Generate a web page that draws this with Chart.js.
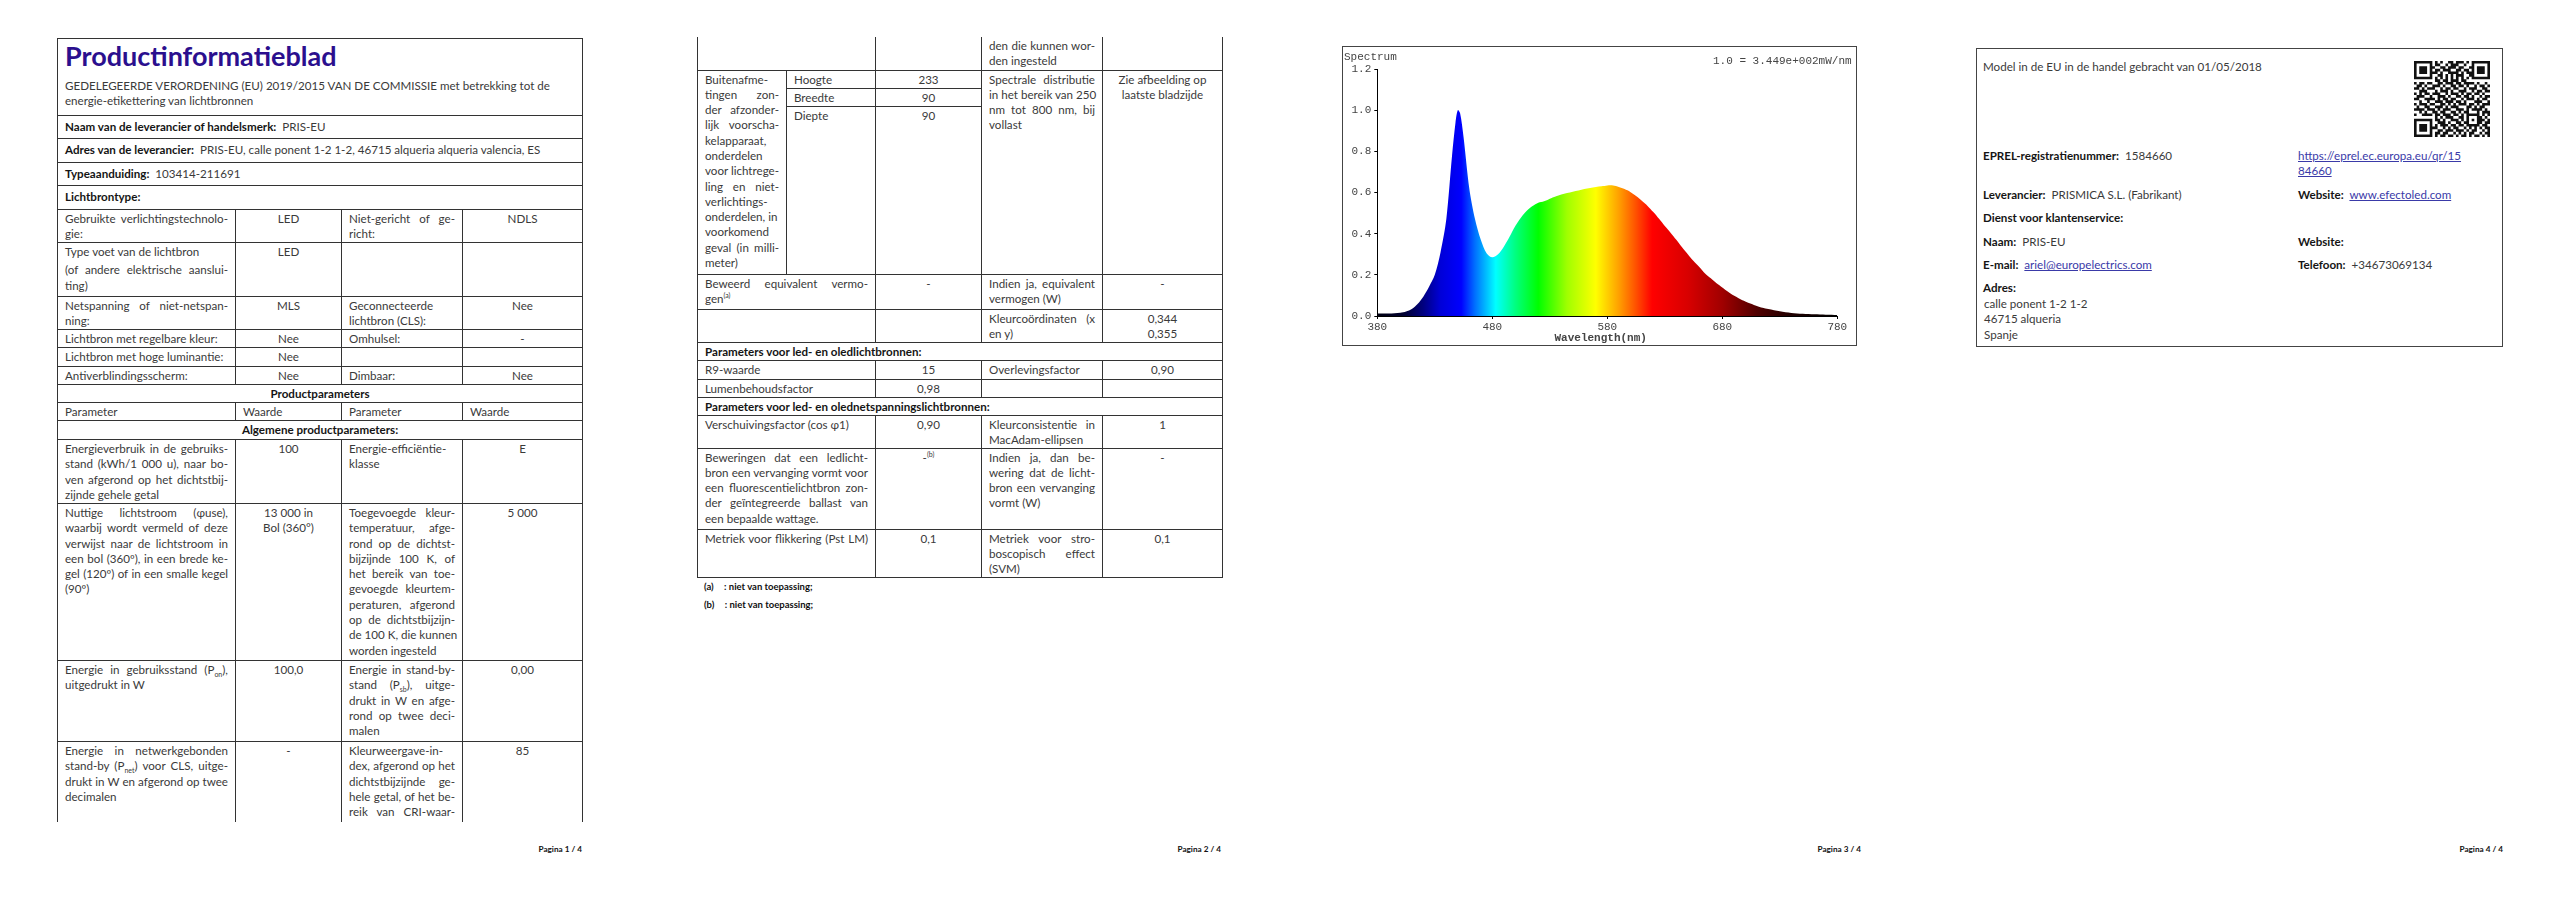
<!DOCTYPE html>
<html lang="nl">
<head>
<meta charset="utf-8">
<title>Productinformatieblad</title>
<script src="https://cdn.jsdelivr.net/npm/chart.js@4/dist/chart.umd.min.js"></script>
<style>
html, body { margin: 0; padding: 0; background: #fff; }
body { position: relative; width: 2560px; height: 905px; overflow: hidden; font-family: Lato, "Open Sans", sans-serif; font-size: 11.6px; line-height: 15.3px; color: #3a3a3a; filter: blur(0.35px); }
table { position: absolute; border-collapse: collapse; table-layout: fixed; }
td { border: 1px solid #333; padding: 1px 7px 0; vertical-align: top; overflow: hidden; white-space: nowrap; }
td.c { text-align: center; }
td.b, b { font-weight: 700; color: #151515; }
td.cb { text-align: center; font-weight: 700; color: #151515; }
tr.open-bottom td { border-bottom: 0; }
tr.open-top td { border-top: 0; }
.j { text-align-last: justify; }
sub, sup { font-size: 7px; line-height: 0; }
h1 { margin: 0; font-size: 27px; line-height: 32px; font-weight: 700; color: #2b0f8e; }
.abs { position: absolute; white-space: nowrap; }
.foot { position: absolute; top: 844px; width: 80px; text-align: right; font-size: 8.2px; line-height: 10px; font-weight: 700; color: #111; }
.note { position: absolute; left: 704px; font-size: 9.5px; line-height: 12px; font-weight: 700; color: #111; white-space: nowrap; }
.box { position: absolute; border: 1.5px solid #444; box-sizing: border-box; }
a { color: #3a3aa8; text-decoration: underline; }
.mono { position: absolute; font-family: "Liberation Mono", monospace; font-size: 11px; line-height: 12px; color: #444; white-space: nowrap; }
#spectrum { position: absolute; left: 1342px; top: 46px; }
#qr { position: absolute; left: 2414px; top: 61px; }
</style>
</head>
<body>

<!-- Pagina 1 -->
<table style="left:57px;top:38px;width:525px">
<colgroup><col style="width:178px"><col style="width:106px"><col style="width:121px"><col style="width:120px"></colgroup>
<tr style="height:77px"><td colspan="4"><h1>Productinformatieblad</h1><div style="margin-top:6px">GEDELEGEERDE VERORDENING (EU) 2019/2015 VAN DE COMMISSIE met betrekking tot de<br>energie-etikettering van lichtbronnen</div></td></tr>
<tr style="height:23px"><td colspan="4" style="padding-top:3px"><b>Naam van de leverancier of handelsmerk:</b>&nbsp; PRIS-EU</td></tr>
<tr style="height:24px"><td colspan="4" style="padding-top:3px"><b>Adres van de leverancier:</b>&nbsp; PRIS-EU, calle ponent 1-2 1-2, 46715 alqueria alqueria valencia, ES</td></tr>
<tr style="height:23px"><td colspan="4" style="padding-top:3px"><b>Typeaanduiding:</b>&nbsp; 103414-211691</td></tr>
<tr style="height:24px"><td colspan="4" style="padding-top:3px"><b>Lichtbrontype:</b></td></tr>
<tr style="height:33px"><td><div class="j">Gebruikte verlichtingstechnolo-</div>gie:</td><td class="c">LED</td><td><div class="j">Niet-gericht of ge-</div>richt:</td><td class="c">NDLS</td></tr>
<tr style="height:54px"><td>Type voet van de lichtbron<div class="j" style="margin-top:3px">(of andere elektrische aanslui-</div>ting)</td><td class="c">LED</td><td></td><td></td></tr>
<tr style="height:33px"><td><div class="j">Netspanning of niet-netspan-</div>ning:</td><td class="c">MLS</td><td>Geconnecteerde<br>lichtbron (CLS):</td><td class="c">Nee</td></tr>
<tr style="height:18px"><td>Lichtbron met regelbare kleur:</td><td class="c">Nee</td><td>Omhulsel:</td><td class="c">-</td></tr>
<tr style="height:19px"><td>Lichtbron met hoge luminantie:</td><td class="c">Nee</td><td></td><td></td></tr>
<tr style="height:18px"><td>Antiverblindingsscherm:</td><td class="c">Nee</td><td>Dimbaar:</td><td class="c">Nee</td></tr>
<tr style="height:18px"><td colspan="4" class="cb">Productparameters</td></tr>
<tr style="height:18px"><td>Parameter</td><td>Waarde</td><td>Parameter</td><td>Waarde</td></tr>
<tr style="height:19px"><td colspan="4" class="cb">Algemene productparameters:</td></tr>
<tr style="height:64px"><td><div class="j">Energieverbruik in de gebruiks-</div><div class="j">stand (kWh/1 000 u), naar bo-</div><div class="j">ven afgerond op het dichtstbij-</div>zijnde gehele getal</td><td class="c">100</td><td>Energie-efficiëntie-<br>klasse</td><td class="c">E</td></tr>
<tr style="height:157px"><td><div class="j">Nuttige lichtstroom (φuse),</div><div class="j">waarbij wordt vermeld of deze</div><div class="j">verwijst naar de lichtstroom in</div><div class="j">een bol (360º), in een brede ke-</div><div class="j">gel (120º) of in een smalle kegel</div>(90º)</td><td class="c">13 000 in<br>Bol (360°)</td><td><div class="j">Toegevoegde kleur-</div><div class="j">temperatuur, afge-</div><div class="j">rond op de dichtst-</div><div class="j">bijzijnde 100 K, of</div><div class="j">het bereik van toe-</div><div class="j">gevoegde kleurtem-</div><div class="j">peraturen, afgerond</div><div class="j">op de dichtstbijzijn-</div><div class="j">de 100 K, die kunnen</div>worden ingesteld</td><td class="c">5 000</td></tr>
<tr style="height:81px"><td><div class="j">Energie in gebruiksstand (P<sub>on</sub>),</div>uitgedrukt in W</td><td class="c">100,0</td><td><div class="j">Energie in stand-by-</div><div class="j">stand (P<sub>sb</sub>), uitge-</div><div class="j">drukt in W en afge-</div><div class="j">rond op twee deci-</div>malen</td><td class="c">0,00</td></tr>
<tr class="open-bottom" style="height:80px"><td><div class="j">Energie in netwerkgebonden</div><div class="j">stand-by (P<sub>net</sub>) voor CLS, uitge-</div><div class="j">drukt in W en afgerond op twee</div>decimalen</td><td class="c">-</td><td>Kleurweergave-in-<div class="j">dex, afgerond op het</div><div class="j">dichtstbijzijnde ge-</div><div class="j">hele getal, of het be-</div><div class="j">reik van CRI-waar-</div></td><td class="c">85</td></tr>
</table>
<div class="foot" style="left:502px">Pagina 1 / 4</div>

<!-- Pagina 2 -->
<table style="left:697px;top:37px;width:525px">
<colgroup><col style="width:89px"><col style="width:89px"><col style="width:106px"><col style="width:121px"><col style="width:120px"></colgroup>
<tr class="open-top" style="height:33px"><td colspan="2"></td><td></td><td><div class="j">den die kunnen wor-</div>den ingesteld</td><td></td></tr>
<tr style="height:18px"><td rowspan="3"><div>Buitenafme-</div><div class="j">tingen zon-</div><div class="j">der afzonder-</div><div class="j">lijk voorscha-</div>kelapparaat,<br>onderdelen<div class="j">voor lichtrege-</div><div class="j">ling en niet-</div>verlichtings-<br>onderdelen, in<br>voorkomend<div class="j">geval (in milli-</div>meter)</td><td>Hoogte</td><td class="c">233</td><td rowspan="3"><div class="j">Spectrale distributie</div><div class="j">in het bereik van 250</div><div class="j">nm tot 800 nm, bij</div>vollast</td><td rowspan="3" class="c">Zie afbeelding op<br>laatste bladzijde</td></tr>
<tr style="height:18px"><td>Breedte</td><td class="c">90</td></tr>
<tr style="height:168px"><td>Diepte</td><td class="c">90</td></tr>
<tr style="height:35px"><td colspan="2"><div class="j">Beweerd equivalent vermo-</div>gen<sup>(a)</sup></td><td class="c">-</td><td><div class="j">Indien ja, equivalent</div>vermogen (W)</td><td class="c">-</td></tr>
<tr style="height:33px"><td colspan="2"></td><td></td><td><div class="j">Kleurcoördinaten (x</div>en y)</td><td class="c">0,344<br>0,355</td></tr>
<tr style="height:18px"><td colspan="5" class="b">Parameters voor led- en oledlichtbronnen:</td></tr>
<tr style="height:19px"><td colspan="2">R9-waarde</td><td class="c">15</td><td>Overlevingsfactor</td><td class="c">0,90</td></tr>
<tr style="height:18px"><td colspan="2">Lumenbehoudsfactor</td><td class="c">0,98</td><td></td><td></td></tr>
<tr style="height:18px"><td colspan="5" class="b">Parameters voor led- en olednetspanningslichtbronnen:</td></tr>
<tr style="height:33px"><td colspan="2">Verschuivingsfactor (cos φ1)</td><td class="c">0,90</td><td><div class="j">Kleurconsistentie in</div>MacAdam-ellipsen</td><td class="c">1</td></tr>
<tr style="height:81px"><td colspan="2"><div class="j">Beweringen dat een ledlicht-</div><div class="j">bron een vervanging vormt voor</div><div class="j">een fluorescentielichtbron zon-</div><div class="j">der geïntegreerde ballast van</div>een bepaalde wattage.</td><td class="c">-<sup>(b)</sup></td><td><div class="j">Indien ja, dan be-</div><div class="j">wering dat de licht-</div><div class="j">bron een vervanging</div>vormt (W)</td><td class="c">-</td></tr>
<tr style="height:48px"><td colspan="2"><div class="j">Metriek voor flikkering (Pst LM)</div></td><td class="c">0,1</td><td><div class="j">Metriek voor stro-</div><div class="j">boscopisch effect</div>(SVM)</td><td class="c">0,1</td></tr>
</table>
<div class="note" style="top:581px">(a) <span style="margin-left:8px">: niet van toepassing;</span></div>
<div class="note" style="top:599px">(b) <span style="margin-left:8px">: niet van toepassing;</span></div>
<div class="foot" style="left:1141px">Pagina 2 / 4</div>

<!-- Pagina 3 -->
<canvas id="spectrum" width="515" height="300"></canvas>
<div class="box" style="left:1342px;top:46px;width:515px;height:300px"></div>
<div class="mono" style="left:1344px;top:51px">Spectrum</div>
<div class="mono" style="left:1713px;top:55px">1.0 = 3.449e+002mW/nm</div>
<div class="foot" style="left:1781px">Pagina 3 / 4</div>

<!-- Pagina 4 -->
<div class="box" style="left:1976px;top:48px;width:527px;height:299px"></div>
<div class="abs" style="left:1983px;top:59px">Model in de EU in de handel gebracht van 01/05/2018</div>
<svg id="qr" width="76" height="76"></svg>
<div class="abs" style="left:1983px;top:148px"><b>EPREL-registratienummer:</b>&nbsp; 1584660</div>
<div class="abs" style="left:2298px;top:148px"><a href="#">https://eprel.ec.europa.eu/qr/15<br>84660</a></div>
<div class="abs" style="left:1983px;top:187px"><b>Leverancier:</b>&nbsp; PRISMICA S.L. (Fabrikant)</div>
<div class="abs" style="left:2298px;top:187px"><b>Website:</b>&nbsp; <a href="#">www.efectoled.com</a></div>
<div class="abs" style="left:1983px;top:210px"><b>Dienst voor klantenservice:</b></div>
<div class="abs" style="left:1983px;top:234px"><b>Naam:</b>&nbsp; PRIS-EU</div>
<div class="abs" style="left:2298px;top:234px"><b>Website:</b></div>
<div class="abs" style="left:1983px;top:257px"><b>E-mail:</b>&nbsp; <a href="#">ariel@europelectrics.com</a></div>
<div class="abs" style="left:2298px;top:257px"><b>Telefoon:</b>&nbsp; +34673069134</div>
<div class="abs" style="left:1983px;top:280px"><b>Adres:</b></div>
<div class="abs" style="left:1984px;top:296px">calle ponent 1-2 1-2<br>46715 alqueria<br>Spanje</div>
<div class="foot" style="left:2423px">Pagina 4 / 4</div>

<script>
const wavelengths = [380, 390, 400, 405, 410, 415, 420, 425, 430, 435, 440, 445, 448, 450, 452, 455, 460, 465, 470, 475, 480, 485, 490, 495, 500, 505, 510, 515, 520, 525, 530, 535, 540, 545, 550, 555, 560, 565, 570, 575, 580, 585, 590, 595, 600, 605, 610, 615, 620, 625, 630, 635, 640, 645, 650, 655, 660, 665, 670, 675, 680, 685, 690, 695, 700, 705, 710, 715, 720, 730, 740, 750, 760, 770, 780];
const spectrum = [0.012, 0.012, 0.016, 0.022, 0.034, 0.058, 0.094, 0.142, 0.2, 0.31, 0.47, 0.78, 0.94, 1.0, 0.985, 0.87, 0.62, 0.47, 0.37, 0.305, 0.285, 0.30, 0.337, 0.385, 0.437, 0.479, 0.511, 0.534, 0.55, 0.557, 0.57, 0.581, 0.59, 0.597, 0.604, 0.61, 0.617, 0.622, 0.627, 0.63, 0.634, 0.634, 0.627, 0.617, 0.603, 0.583, 0.56, 0.535, 0.505, 0.472, 0.437, 0.405, 0.37, 0.334, 0.30, 0.267, 0.238, 0.207, 0.183, 0.159, 0.139, 0.118, 0.099, 0.084, 0.071, 0.06, 0.049, 0.04, 0.034, 0.023, 0.015, 0.011, 0.008, 0.006, 0.005];
const xTicks = [380, 480, 580, 680, 780];
const yTicks = [0, 0.2, 0.4, 0.6, 0.8, 1.0, 1.2];

// Kleurverloop over de golflengtes
const colorStopsNm = [380, 403, 420, 435, 453, 465, 483, 500, 520, 545, 570, 590, 605, 619, 650, 680, 710, 740, 780];
const colorStops = ['#000010', '#000030', '#000080', '#0000d8', '#0000ff', '#0070ff', '#00ffff', '#00ff80', '#00ff00', '#a0ff00', '#ffff00', '#ffa000', '#ff5000', '#ff0000', '#d80000', '#a00000', '#500000', '#200000', '#000000'];

const qrRows = [
    '11111110101001101110101111111',
    '10000010110010111001001000001',
    '10111011001101110110011011101',
    '10111010110111001101101011101',
    '10111011101001111010111011101',
    '10000010011010101110011000001',
    '11111110101010101010101111111',
    '00000000110110111011000000000',
    '10110110011011101101111010010',
    '01101001110100110110100101101',
    '11010111001011011001011100110',
    '00111000101110100111001011011',
    '10101101110010111010110110100',
    '01110010011101001101101001011',
    '11001111010110110010111010110',
    '00100100111011101101000111001',
    '10111011001101010111011010111',
    '01001100111010111000110101100',
    '11110111010111001110101111010',
    '00101001101100110101100010111',
    '10011110110111011010111110101',
    '00000000101011100110100011010',
    '11111110110100111010101011101',
    '10000010011101001101100011011',
    '10111010101110110110111110110',
    '10111011100101011001010101011',
    '10111010011011101110101100101',
    '10000010110110010101011001011',
    '11111110101101101011010110101'
];

function spectrumFill(context) {
    const chart = context.chart;
    if (!chart.chartArea) return 'transparent';
    const scale = chart.scales.x;
    const grad = chart.ctx.createLinearGradient(scale.left, 0, scale.right, 0);
    colorStopsNm.forEach((nm, i) => {
        const pos = (scale.getPixelForValue(nm) - scale.left) / (scale.right - scale.left);
        grad.addColorStop(pos, colorStops[i]);
    });
    return grad;
}

const monoFont = { family: '"Liberation Mono", monospace', size: 11 };

new Chart(document.getElementById('spectrum'), {
    type: 'line',
    data: {
        datasets: [{
            data: wavelengths.map((nm, i) => ({ x: nm, y: spectrum[i] })),
            parsing: false,
            fill: 'origin',
            backgroundColor: spectrumFill,
            borderWidth: 0,
            pointRadius: 0,
            tension: 0.3
        }]
    },
    options: {
        responsive: false,
        animation: false,
        layout: { padding: { top: 23, right: 19.7, left: 0, bottom: 0 } },
        plugins: { legend: { display: false }, tooltip: { enabled: false } },
        scales: {
            x: {
                type: 'linear',
                min: 380,
                max: 780,
                afterFit: scale => { scale.height = 30; },
                afterBuildTicks: scale => { scale.ticks = xTicks.map(value => ({ value })); },
                border: { color: '#000', width: 1 },
                grid: { drawOnChartArea: false, drawTicks: true, tickLength: 3, color: '#000' },
                ticks: { font: monoFont, color: '#444', padding: 1, maxRotation: 0 },
                title: { display: true, text: 'Wavelength(nm)  ', font: { ...monoFont, weight: 'bold' }, color: '#444', padding: { top: 0, bottom: 1 } }
            },
            y: {
                min: 0,
                max: 1.2,
                afterFit: scale => { scale.width = 35.3; },
                afterBuildTicks: scale => { scale.ticks = yTicks.map(value => ({ value })); },
                border: { color: '#000', width: 1 },
                grid: { drawOnChartArea: false, drawTicks: true, tickLength: 3, color: '#000' },
                ticks: { font: monoFont, color: '#444', padding: 3, callback: value => value.toFixed(1) }
            }
        }
    }
});

// QR-code tekenen
const qr = document.getElementById('qr');
const cell = 76 / qrRows.length;
let qrPath = '';
qrRows.forEach((row, r) => {
    [...row].forEach((bit, c) => {
        if (bit === '1') qrPath += `M${c * cell} ${r * cell}h${cell}v${cell}h${-cell}z`;
    });
});
qr.innerHTML = `<path d="${qrPath}" fill="#111"/>`;
</script>
</body>
</html>
